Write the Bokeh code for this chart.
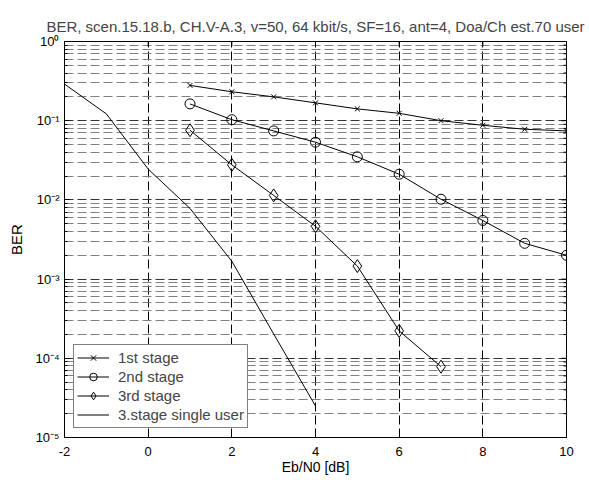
import math
from bokeh.plotting import figure
from bokeh.models import (Legend, LegendItem, CustomJSTickFormatter, FixedTicker)
from bokeh.embed import file_html
from bokeh.resources import INLINE

# ---- data ----
ebn0_stages = [1, 2, 3, 4, 5, 6, 7, 8, 9, 10]
ber_stage1 = [0.279, 0.232, 0.200, 0.168, 0.141, 0.124, 0.100, 0.0875, 0.078, 0.0743]
ber_stage2 = [0.163, 0.103, 0.0743, 0.0535, 0.035, 0.0211, 0.0102, 0.0055, 0.00283, 0.0020]
ebn0_stage3 = [1, 2, 3, 4, 5, 6, 7]
ber_stage3 = [0.0758, 0.0277, 0.0114, 0.00464, 0.00146, 0.000222, 0.0000784]
ebn0_single = [-2, -1, 0, 1, 2, 3, 4]
ber_single = [0.29, 0.122, 0.0245, 0.0078, 0.00168, 0.000203, 0.0000250]

x_ticks = [-2, 0, 2, 4, 6, 8, 10]
y_ticks = [1e-5, 1e-4, 1e-3, 1e-2, 1e-1, 1.0]
y_minor = [k * 10.0 ** d for d in range(-5, 0) for k in range(2, 10)]

title_text = "BER, scen.15.18.b, CH.V-A.3, v=50, 64 kbit/s, SF=16, ant=4, Doa/Ch est.70 user"
x_label = "Eb/N0 [dB]"
y_label = "BER"
series_names = ["1st stage", "2nd stage", "3rd stage", "3.stage single user"]

FONT = "Liberation Sans"
X_MIN, X_MAX = -2, 10
Y_MIN, Y_MAX = 1e-5, 1.0

p = figure(width=585, height=480, y_axis_type="log",
           x_range=(X_MIN, X_MAX), y_range=(Y_MIN, Y_MAX),
           output_backend="svg", toolbar_location=None,
           min_border_left=64, min_border_right=19,
           min_border_top=41, min_border_bottom=43,
           title=title_text)

p.title.align = "center"
p.title.text_font = FONT
p.title.text_font_size = "15px"
p.title.text_font_style = "normal"
p.title.standoff = 13

p.outline_line_color = "black"
p.outline_line_width = 1
p.background_fill_color = "white"
p.border_fill_color = "white"

sup_js = """
const e = Math.round(Math.log10(tick));
const sup = {"0":"\u2070","1":"\u00b9","2":"\u00b2","3":"\u00b3","4":"\u2074","5":"\u2075","6":"\u2076","7":"\u2077","8":"\u2078","9":"\u2079","-":"\u207b"};
return "10" + String(e).split("").map(c => sup[c]).join("");
"""

xt = FixedTicker(ticks=x_ticks, minor_ticks=[])
yt = FixedTicker(ticks=y_ticks, minor_ticks=y_minor)

p.xaxis.ticker = xt
p.xaxis.axis_label = x_label
p.xaxis.formatter = CustomJSTickFormatter(code="return String(tick);")
p.yaxis.ticker = yt
p.yaxis.axis_label = y_label
p.yaxis.formatter = CustomJSTickFormatter(code=sup_js)

for ax in list(p.xaxis) + list(p.yaxis):
    ax.axis_line_color = "black"
    ax.major_tick_in = 5
    ax.major_tick_out = 0
    ax.minor_tick_in = 3
    ax.minor_tick_out = 0
    ax.major_tick_line_color = "black"
    ax.minor_tick_line_color = "black"
    ax.major_label_text_font = FONT
    ax.major_label_text_font_size = "13px"
    ax.major_label_text_color = "black"
    ax.axis_label_text_font = FONT
    ax.axis_label_text_font_size = "15px"
    ax.axis_label_text_font_style = "normal"
    ax.axis_label_text_color = "black"

p.xaxis.major_label_standoff = 9
p.xaxis.axis_label_standoff = 0
p.xaxis.axis_label_text_font_size = "14px"
p.yaxis.major_label_standoff = 5
p.yaxis.axis_label_standoff = 7

# grids
p.xgrid.grid_line_color = "black"
p.xgrid.grid_line_dash = "9 4"
p.xgrid.grid_line_width = 1
p.ygrid.grid_line_color = "#333333"
p.ygrid.grid_line_dash = "9 4"
p.ygrid.minor_grid_line_color = "#808080"
p.ygrid.minor_grid_line_dash = "9 4"

# mirrored ticks on the right and top edges (inward)
p.ray(x=[X_MAX] * len(y_ticks), y=y_ticks, length=5, length_units="screen",
      angle=math.pi, line_color="black", line_width=1)
p.ray(x=[X_MAX] * len(y_minor), y=y_minor, length=3, length_units="screen",
      angle=math.pi, line_color="black", line_width=1)
p.ray(x=x_ticks, y=[Y_MAX] * len(x_ticks), length=5, length_units="screen",
      angle=-math.pi / 2, line_color="black", line_width=1)

# series
l1 = p.line(ebn0_stages, ber_stage1, line_color="black", line_width=1)
m1 = p.scatter(ebn0_stages, ber_stage1, marker="x", size=7, line_color="black", line_width=1)
l2 = p.line(ebn0_stages, ber_stage2, line_color="black", line_width=1)
m2 = p.scatter(ebn0_stages, ber_stage2, marker="circle", size=10, line_color="black",
               fill_color=None, line_width=1)
l3 = p.line(ebn0_stage3, ber_stage3, line_color="black", line_width=1)
m3 = p.scatter(ebn0_stage3, ber_stage3, marker="diamond", size=13,
               line_color="black", fill_color=None, line_width=1)
l4 = p.line(ebn0_single, ber_single, line_color="black", line_width=1)

legend = Legend(items=[
    LegendItem(label=series_names[0], renderers=[l1, m1]),
    LegendItem(label=series_names[1], renderers=[l2, m2]),
    LegendItem(label=series_names[2], renderers=[l3, m3]),
    LegendItem(label=series_names[3], renderers=[l4]),
], location="bottom_left")
legend.border_line_color = "black"
legend.border_line_width = 1
legend.background_fill_color = "white"
legend.background_fill_alpha = 1.0
legend.label_text_font = FONT
legend.label_text_font_size = "15px"
legend.margin = 9
legend.padding = 3
legend.spacing = 0
legend.label_height = 19
legend.glyph_height = 19
legend.glyph_width = 32
legend.label_standoff = 9
p.add_layout(legend, "center")

open("out.html", "w").write(file_html(p, INLINE))
